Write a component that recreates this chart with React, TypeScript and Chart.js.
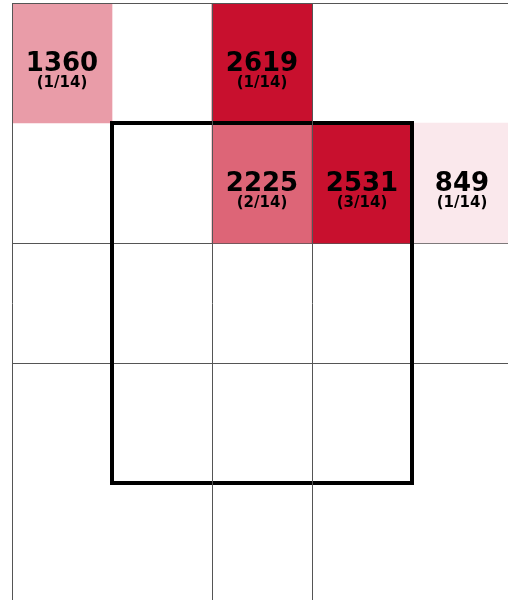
import React, { useEffect, useRef } from 'react';
import { Chart, registerables } from 'chart.js';

Chart.register(...registerables);

// Heat-map cells (column index, row index from top)
const cellCols = [0, 2, 2, 3, 4];
const cellRows = [0, 0, 1, 1, 1];
const cellValues = [1360, 2619, 2225, 2531, 849];
const cellHits = [1, 1, 2, 3, 1];
const totalHits = 14;
const cellColors = ['#E99CA8', '#C8102E', '#DD6577', '#C8102E', '#FAE8EC'];

// Zone box corners (in cell units)
const boxX = [1, 4, 4, 1, 1];
const boxY = [1, 1, 4, 4, 1];

// Grid lines shown
const xGridShown = [0, 2, 3];
const yGridShown = [2, 3];

const GRID = '#555555';

const labelPlugin = {
  id: 'cellLabels',
  afterDraw(chart: any) {
    const { ctx, scales } = chart;
    const xs = scales.x;
    const ys = scales.y;
    ctx.save();
    ctx.fillStyle = '#000';
    ctx.textAlign = 'center';
    ctx.textBaseline = 'alphabetic';
    for (let i = 0; i < cellValues.length; i++) {
      const cx = xs.getPixelForValue(cellCols[i] + 0.5);
      const cy = ys.getPixelForValue(cellRows[i] + 0.5);
      ctx.font = 'bold 26px "DejaVu Sans"';
      ctx.fillText(String(cellValues[i]), cx, cy + 8);
      ctx.font = 'bold 15px "DejaVu Sans"';
      ctx.fillText('(' + cellHits[i] + '/' + totalHits + ')', cx, cy + 24);
    }
    ctx.restore();
  },
};

export default function App() {
  const ref = useRef<HTMLCanvasElement | null>(null);
  useEffect(() => {
    if (!ref.current) return;
    const chart = new Chart(ref.current, {
      type: 'bar',
      data: {
        datasets: [
          {
            type: 'line',
            data: boxX.map((x, i) => ({ x, y: boxY[i] })),
            borderColor: '#000',
            borderWidth: 4,
            pointRadius: 0,
            fill: false,
            tension: 0,
            borderJoinStyle: 'miter',
            borderCapStyle: 'square',
            order: 0,
          } as any,
          {
            type: 'bar',
            data: cellCols.map((c, i) => ({ x: c + 0.5, y: [cellRows[i], cellRows[i] + 1] })),
            backgroundColor: cellColors,
            borderWidth: 0,
            barPercentage: 1,
            categoryPercentage: 1,
            order: 1,
          } as any,
        ],
      },
      options: {
        animation: false,
        responsive: false,
        events: [],
        layout: { padding: { left: 12, top: 3, right: 8, bottom: 7 } },
        plugins: { legend: { display: false }, tooltip: { enabled: false } },
        scales: {
          x: {
            type: 'linear',
            position: 'top',
            offset: false,
            min: 0,
            max: 5,
            ticks: { display: false, stepSize: 1 },
            grid: {
              z: 1,
              offset: false,
              drawTicks: false,
              lineWidth: 1,
              color: (c: any) => (xGridShown.includes(c.tick?.value) ? GRID : 'rgba(0,0,0,0)'),
            },
            border: { display: true, color: GRID, width: 1, z: 1 },
          },
          y: {
            type: 'linear',
            reverse: true,
            offset: false,
            min: 0,
            max: 5,
            ticks: { display: false, stepSize: 1 },
            grid: {
              offset: false,
              drawTicks: false,
              lineWidth: 1,
              color: (c: any) => (yGridShown.includes(c.tick?.value) ? GRID : 'rgba(0,0,0,0)'),
            },
            border: { display: false },
          },
        },
      } as any,
      plugins: [labelPlugin],
    });
    return () => chart.destroy();
  }, []);
  return (
    <div style={{ position: 'fixed', left: 0, top: 0, width: 508, height: 600, overflow: 'hidden', background: '#fff' }}>
      <canvas ref={ref} width={520} height={610} style={{ display: 'block' }} />
    </div>
  );
}
